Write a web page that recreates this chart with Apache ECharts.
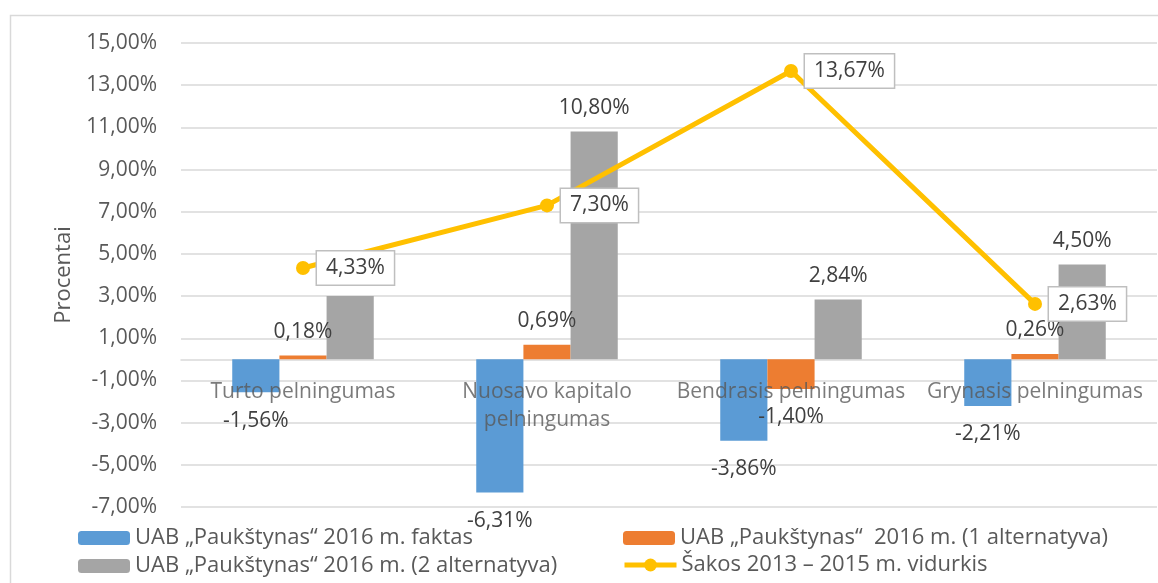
<!DOCTYPE html>
<html>
<head>
<meta charset="utf-8">
<script src="https://cdn.jsdelivr.net/npm/echarts@6/dist/echarts.min.js"></script>
<style>
  html, body { margin: 0; padding: 0; background: #fff; }
  #chart { width: 1158px; height: 583px; }
</style>
</head>
<body>
<div id="chart"></div>
<script>
const categories = ['Turto pelningumas', 'Nuosavo kapitalo\npelningumas', 'Bendrasis pelningumas', 'Grynasis pelningumas']
const seriesNames = [
  'UAB „Paukštynas“ 2016 m. faktas',
  'UAB „Paukštynas“  2016 m. (1 alternatyva)',
  'UAB „Paukštynas“ 2016 m. (2 alternatyva)',
  'Šakos 2013 – 2015 m. vidurkis'
]
const faktas = [-1.56, -6.31, -3.86, -2.21]
const alternatyva1 = [0.18, 0.69, -1.40, 0.26]
const alternatyva2 = [3.00, 10.80, 2.84, 4.50]
const sakosVidurkis = [4.33, 7.30, 13.67, 2.63]
const yTicks = { min: -7, max: 15, step: 2 }

const FONT = 'Open Sans'
const TEXT = '#595959'
const LABEL = '#404040'
const GRID = '#d9d9d9'

function pct(v) {
  return Number(v).toFixed(2).replace('.', ',') + '%'
}

function barData(values) {
  return values.map((v) => ({
    value: v,
    label: { position: v >= 0 ? 'top' : 'bottom', distance: v >= 0 ? 13 : 18 }
  }))
}

function barSeries(name, values, color) {
  return {
    name,
    type: 'bar',
    data: barData(values),
    barGap: '0%',
    barCategoryGap: '42%',
    itemStyle: { color },
    label: {
      show: true,
      formatter: (p) => pct(p.value),
      fontFamily: FONT,
      fontSize: 21,
      color: LABEL
    }
  }
}

const legendBase = {
  padding: 0,
  itemWidth: 52,
  itemHeight: 14,
  itemGap: 6,
  selectedMode: false,
  textStyle: { fontFamily: FONT, fontSize: 22, color: TEXT }
}

const chart = echarts.init(document.getElementById('chart'))
chart.setOption({
  backgroundColor: '#fff',
  animation: false,
  graphic: [{
    type: 'rect',
    shape: { x: 10.5, y: 15.5, width: 1300, height: 700 },
    style: { fill: 'none', stroke: GRID, lineWidth: 1.5 },
    silent: true
  }],
  legend: [
    { ...legendBase, data: [seriesNames[0]], left: 78, top: 527 },
    { ...legendBase, data: [seriesNames[1]], left: 623, top: 527 },
    { ...legendBase, data: [seriesNames[2]], left: 78, top: 555 },
    {
      ...legendBase,
      data: [seriesNames[3]],
      left: 622,
      top: 554,
      itemHeight: 16,
      lineStyle: { width: 5 }
    }
  ],
  grid: { left: 181, right: 1, top: 43, bottom: 76, containLabel: false },
  xAxis: {
    type: 'category',
    data: categories,
    axisLine: { onZero: true, lineStyle: { color: GRID, width: 1.5 } },
    axisTick: { show: false },
    axisLabel: { show: false }
  },
  yAxis: {
    type: 'value',
    min: yTicks.min,
    max: yTicks.max,
    interval: yTicks.step,
    name: 'Procentai',
    nameLocation: 'middle',
    nameGap: 106,
    nameTextStyle: { fontFamily: FONT, fontSize: 22, color: TEXT },
    axisLine: { show: false },
    axisTick: { show: false },
    axisLabel: {
      margin: 24,
      fontFamily: FONT,
      fontSize: 21,
      color: TEXT,
      formatter: (v) => pct(v)
    },
    splitLine: { lineStyle: { color: GRID, width: 1.5 } }
  },
  series: [
    barSeries(seriesNames[0], faktas, '#5b9bd5'),
    barSeries(seriesNames[1], alternatyva1, '#ed7d31'),
    barSeries(seriesNames[2], alternatyva2, '#a5a5a5'),
    {
      // category names sit just under the zero line, drawn over the bars
      type: 'scatter',
      data: categories.map((c) => ({ name: c, value: [c, 0] })),
      symbolSize: 1,
      itemStyle: { color: 'transparent' },
      z: 3,
      silent: true,
      label: {
        show: true,
        position: 'bottom',
        distance: 18,
        formatter: '{b}',
        fontFamily: FONT,
        fontSize: 21,
        lineHeight: 28,
        color: TEXT
      }
    },
    {
      name: seriesNames[3],
      type: 'line',
      data: sakosVidurkis,
      z: 4,
      symbol: 'circle',
      symbolSize: 14,
      itemStyle: { color: '#ffc000' },
      lineStyle: { color: '#ffc000', width: 5 },
      label: {
        show: true,
        position: 'right',
        distance: 7,
        formatter: (p) => pct(p.value),
        fontFamily: FONT,
        fontSize: 21,
        color: LABEL,
        backgroundColor: '#fff',
        borderColor: '#bfbfbf',
        borderWidth: 1.5,
        padding: [6, 9]
      }
    }
  ]
})
</script>
</body>
</html>
